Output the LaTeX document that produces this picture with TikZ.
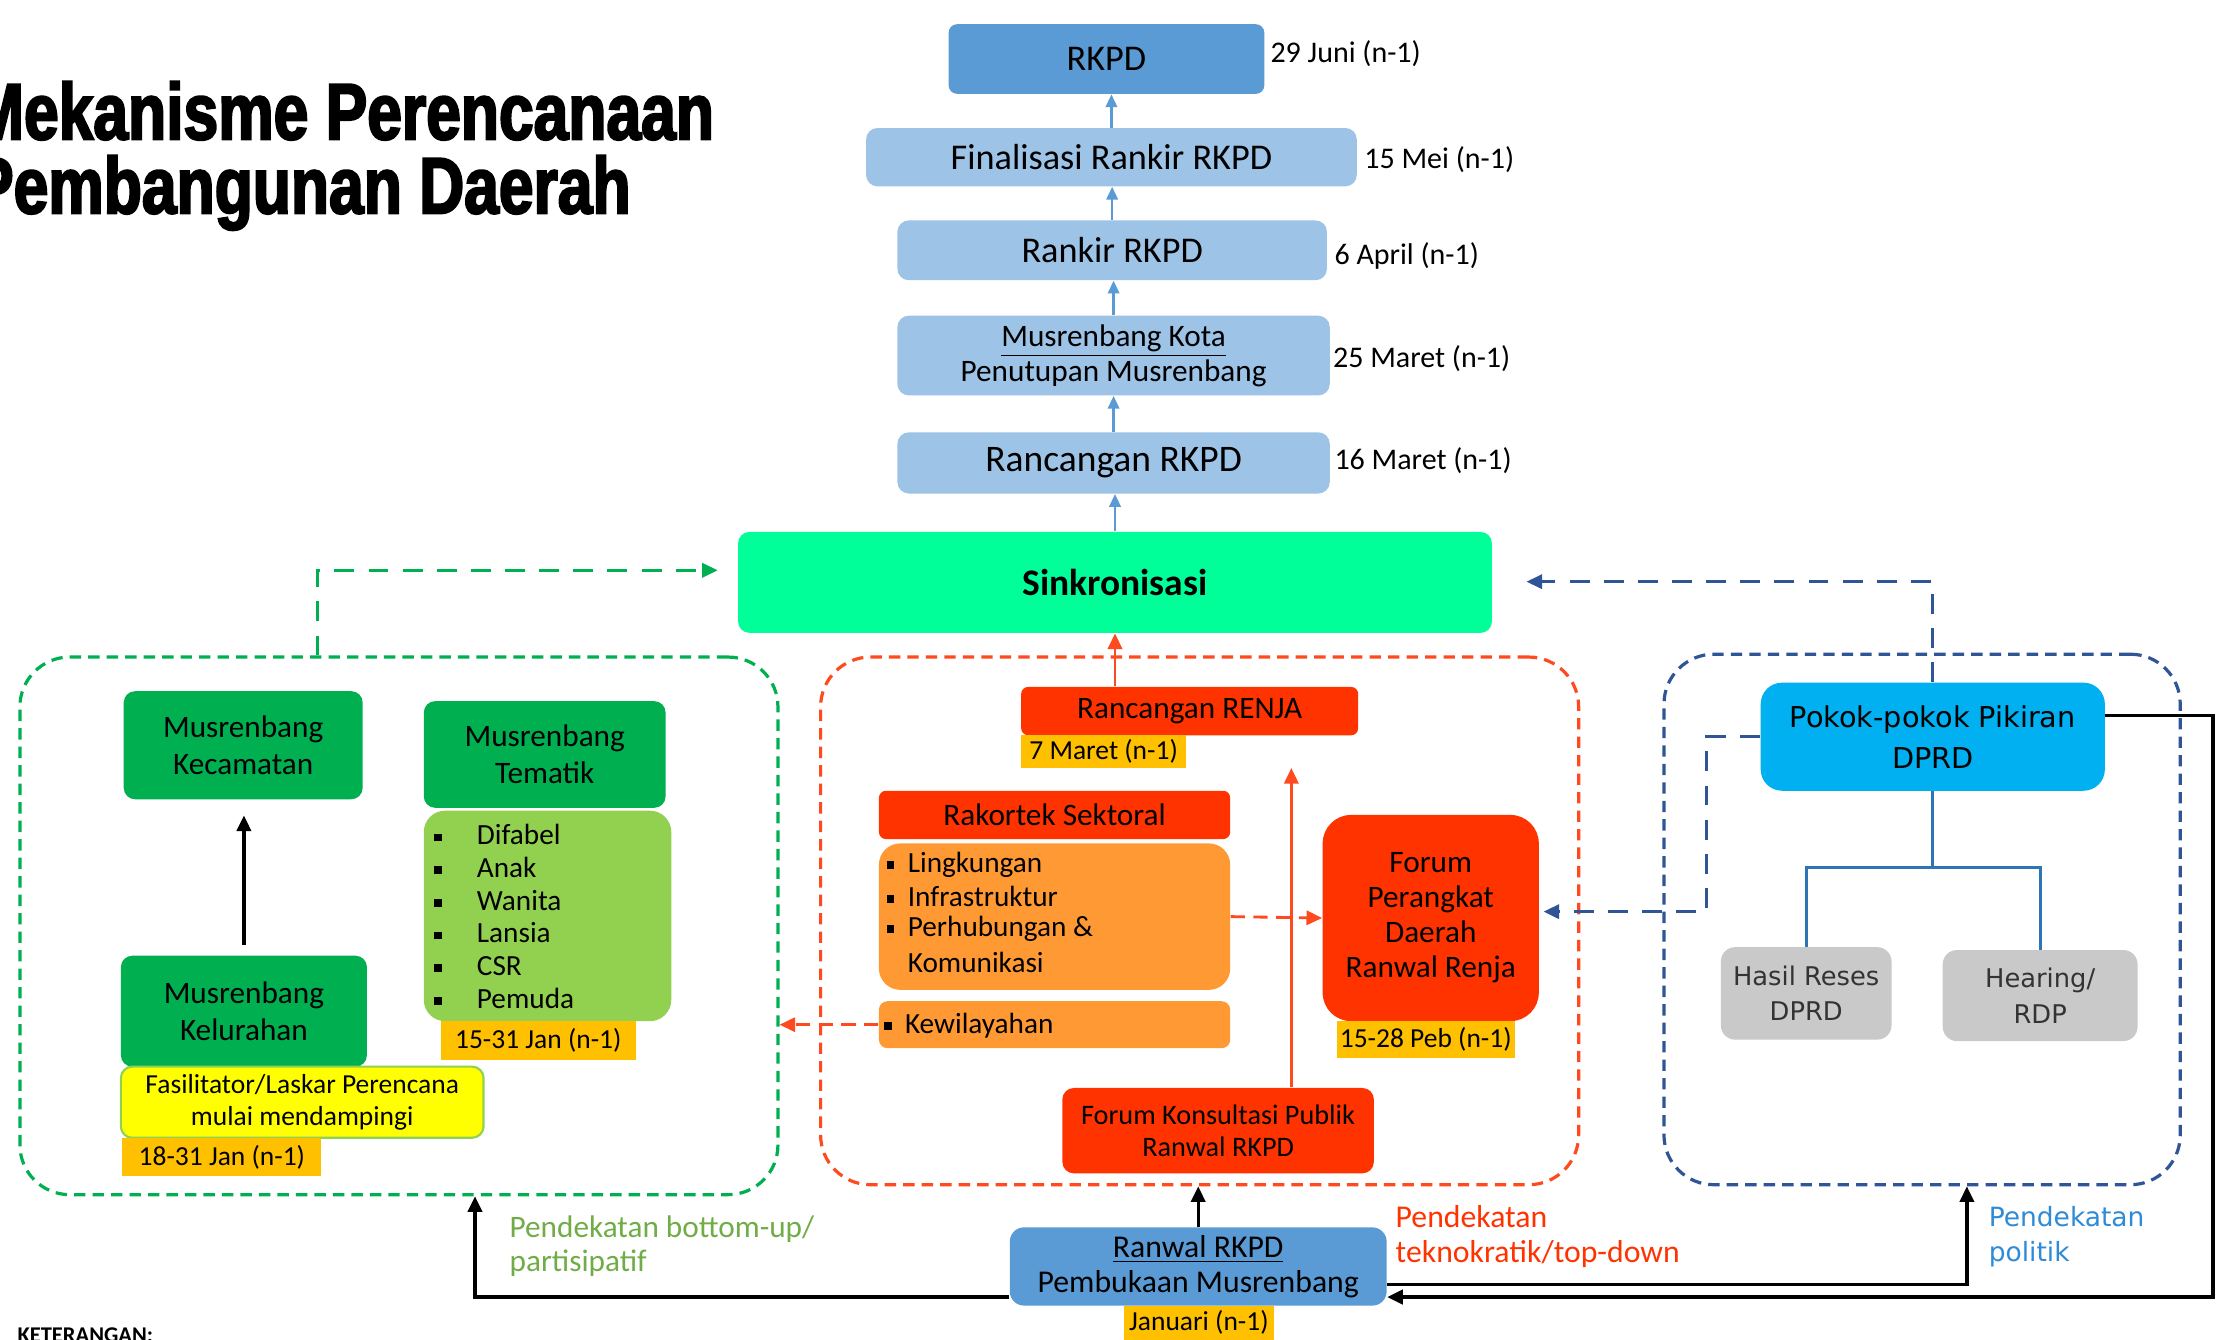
\documentclass[tikz,border=0pt]{standalone}
\usepackage{fontspec}
\setmainfont{Carlito}
\newfontfamily\judulfont{Liberation Sans}[FakeStretch=0.78,FakeBold=2.6]
\newfontfamily\dvfont{DejaVu Sans}
\usetikzlibrary{arrows.meta}
\definecolor{biruRKPD}{HTML}{5B9BD5}
\definecolor{biruMuda}{HTML}{9DC3E6}
\definecolor{mint}{HTML}{00FF99}
\definecolor{hijauTua}{HTML}{00B050}
\definecolor{hijauMuda}{HTML}{92D050}
\definecolor{tglOranye}{HTML}{FFC000}
\definecolor{kuning}{HTML}{FFFF00}
\definecolor{merahOr}{HTML}{FF3300}
\definecolor{oranye}{HTML}{FF9933}
\definecolor{biruLangit}{HTML}{00B0F0}
\definecolor{abu}{HTML}{C9C9C9}
\definecolor{garisMerah}{HTML}{FF4A1F}
\definecolor{garisBiru}{HTML}{2F5597}
\definecolor{pohon}{HTML}{2E75B6}
\definecolor{hijauLabel}{HTML}{70AD47}
\definecolor{biruLabel}{HTML}{2E8BD8}
\newcommand\kotakkecil{\rule[0.25ex]{1.1mm}{1.1mm}}

\begin{document}
\begin{tikzpicture}[x=0.2mm,y=-0.2mm,
    ukuran/.style 2 args={minimum width=#1mm,minimum height=#2mm},
    box/.style={rounded corners=1.6mm,align=center,inner sep=0pt,text=black},
    kolom/.style={box,fill=biruMuda,font=\fontsize{14.5}{17}\selectfont},
    hijau/.style={box,fill=hijauTua,font=\fontsize{12.5}{15}\selectfont},
    merah/.style={box,fill=merahOr,font=\fontsize{12.5}{15}\selectfont},
    tgl/.style={fill=tglOranye,inner sep=0pt,align=center,font=\fontsize{11}{13}\selectfont},
    tglkanan/.style={anchor=west,inner sep=0pt,font=\fontsize{12}{14}\selectfont},
    item/.style={anchor=west,inner sep=0pt,font=\fontsize{11.7}{14}\selectfont},
    wadah/.style={rounded corners=7mm,line width=0.45mm,dash pattern=on 1.6mm off 1mm,inner sep=0pt},
    panahbiru/.style={draw=biruRKPD,line width=0.35mm,-{Triangle[length=1.8mm,width=1.6mm]}},
    panahhitam/.style={draw=black,line width=0.45mm,-{Triangle[length=2.2mm,width=2mm]}},
    panahhijau/.style={draw=hijauTua,line width=0.45mm,dash pattern=on 2.8mm off 2mm,-{Triangle[length=2.2mm,width=2mm]}},
    panahmerah/.style={draw=garisMerah,line width=0.4mm,-{Triangle[length=2.2mm,width=2mm]}},
    panahmerahputus/.style={panahmerah,dash pattern=on 2mm off 1.2mm},
    panahbiruputus/.style={draw=garisBiru,line width=0.45mm,dash pattern=on 2.8mm off 2mm,-{Triangle[length=2.2mm,width=2mm]}},
    garispohon/.style={draw=pohon,line width=0.4mm}]
    \useasboundingbox (0,0) rectangle (1568,942);
    \fill[white] (0,0) rectangle (1568,942);

    \node[anchor=base west,inner sep=0pt,font=\judulfont\bfseries\fontsize{32}{30}\selectfont] (judul1) at (-20,98) {Mekanisme Perencanaan};
    \node[anchor=base west,inner sep=0pt,font=\judulfont\bfseries\fontsize{32}{30}\selectfont] (judul2) at (-20,150) {Pembangunan Daerah};

    % kolom RKPD
    \node[kolom,fill=biruRKPD,rounded corners=1.2mm,ukuran={44.4}{9.8}] (rkpd) at (778,41.5) {RKPD};
    \node[kolom,ukuran={69}{8.2}] (final) at (781.5,110.5) {Finalisasi Rankir RKPD};
    \node[kolom,ukuran={60.4}{8.4}] (rankir) at (782,176) {Rankir RKPD};
    \node[kolom,ukuran={60.8}{11.2},font=\fontsize{12.5}{14}\selectfont] (kota) at (783,250) {\underline{Musrenbang Kota}\\Penutupan Musrenbang};
    \node[kolom,ukuran={60.8}{8.6},font=\fontsize{15}{17}\selectfont] (rancrkpd) at (783,325.5) {Rancangan RKPD};
    \node[box,fill=mint,ukuran={106}{14.2},font=\bfseries\fontsize{15}{17}\selectfont] (sink) at (784,409.5) {Sinkronisasi};
    \foreach \a/\b in {sink/rancrkpd,rancrkpd/kota,kota/rankir,rankir/final,final/rkpd}
        \draw[panahbiru] (\a.north) -- (\a.north |- \b.south);

    \node[tglkanan] (t1) at (893,38) {29 Juni (n-1)};
    \node[tglkanan] (t2) at (959,112) {15 Mei (n-1)};
    \node[tglkanan] (t3) at (938,180) {6 April (n-1)};
    \node[tglkanan] (t4) at (937,252) {25 Maret (n-1)};
    \node[tglkanan] (t5) at (938,324) {16 Maret (n-1)};

    \node[wadah,draw=hijauTua,ukuran={106.6}{75.6}] (gbox) at (280.5,651) {};
    \node[wadah,draw=garisMerah,ukuran={106.6}{74.2}] (rbox) at (843.5,647.5) {};
    \node[wadah,draw=garisBiru,ukuran={72.6}{74.6}] (bbox) at (1351.5,646.5) {};

    % bottom-up
    \node[hijau,ukuran={33.6}{15.2}] (kec) at (171,524) {Musrenbang\\Kecamatan};
    \node[box,fill=hijauMuda,rounded corners=3mm,ukuran={34.8}{29.6}] (temlist) at (385,644) {};
    \node[hijau,ukuran={34}{15}] (tem) at (383,530.5) {Musrenbang\\Tematik};
    \foreach \t [count=\i] in {Difabel,Anak,Wanita,Lansia,CSR,Pemuda}
        \node[item] (tem\i) at (305,564+23*\i) {\makebox[6mm][l]{\kotakkecil}\t};
    \node[tgl,ukuran={27.4}{5.4}] (temtgl) at (378.5,731.5) {15-31 Jan (n-1)};
    \node[hijau,ukuran={34.6}{15.6}] (kel) at (171.5,711) {Musrenbang\\Kelurahan};
    \node[box,fill=kuning,draw=hijauMuda,line width=0.3mm,ukuran={51}{10},font=\fontsize{11}{12.5}\selectfont] (fasil) at (212.5,775) {Fasilitator/Laskar Perencana\\mulai mendampingi};
    \node[tgl,ukuran={28}{5.4}] (keltgl) at (156,813.5) {18-31 Jan (n-1)};
    \draw[panahhitam,shorten <=1.4mm,shorten >=2.2mm] (kel.north) -- (kel.north |- kec.south);
    \coordinate (gatas) at (223,401);
    \draw[panahhijau] (gatas |- gbox.north) -- (gatas) -- ([xshift=-2.8mm]sink.west |- gatas);

    % teknokratik
    \node[merah,ukuran={47.4}{6.8},rounded corners=1mm] (renja) at (836.5,500) {Rancangan RENJA};
    \node[tgl,ukuran={23.2}{4.6}] (renjatgl) at (776,528.5) {7 Maret (n-1)};
    \draw[panahmerah] (renja.north -| sink.south) -- (sink.south);
    \node[merah,ukuran={49.4}{6.8},rounded corners=1mm] (rakortek) at (741.5,573) {Rakortek Sektoral};
    \node[box,fill=oranye,rounded corners=3mm,ukuran={49.4}{20.6}] (sektor) at (741.5,644.5) {};
    \foreach \t/\y [count=\i] in {Lingkungan/608,Infrastruktur/630,Perhubungan \&/653}
        \node[item] (sek\i) at (623,\y) {\makebox[3mm][l]{\kotakkecil}\t};
    \node[item] (sek4) at (638,677) {Komunikasi};
    \node[box,fill=oranye,rounded corners=1.2mm,ukuran={49.4}{6.6}] (kewil) at (741.5,720.5) {};
    \node[item] (kewiltxt) at (621,721) {\makebox[3mm][l]{\kotakkecil}Kewilayahan};
    \node[merah,rounded corners=4mm,ukuran={30.4}{29},font=\fontsize{12.5}{14}\selectfont] (forum) at (1006,645.5) {Forum\\Perangkat\\Daerah\\Ranwal Renja};
    \node[tgl,ukuran={25}{5.2}] (forumtgl) at (1002.5,731) {15-28 Peb (n-1)};
    \node[merah,ukuran={43.8}{12},font=\fontsize{11.3}{13}\selectfont] (fkp) at (856.5,795) {Forum Konsultasi Publik\\Ranwal RKPD};
    \coordinate (merahujung) at (908,540);
    \draw[panahmerah] (fkp.north -| merahujung) -- (merahujung);
    \draw[panahmerahputus] (sektor.east) -- (forum.west);
    \draw[panahmerahputus] (kewil.west) -- (kewil.west -| gbox.east);

    % politik
    \node[box,fill=biruLangit,rounded corners=3mm,ukuran={48.4}{15.2},font=\dvfont\fontsize{11.5}{16.5}\selectfont] (pokok) at (1359,518) {Pokok-pokok Pikiran\\DPRD};
    \node[box,fill=abu,rounded corners=2mm,ukuran={24}{13},text=black!80,font=\dvfont\fontsize{10.3}{14.2}\selectfont] (reses) at (1270,698.5) {Hasil Reses\\DPRD};
    \node[box,fill=abu,rounded corners=2mm,ukuran={27.4}{12.8},text=black!80,font=\dvfont\fontsize{10.3}{14.2}\selectfont] (hearing) at (1434.5,700) {Hearing/\\RDP};
    \coordinate (cabang) at (1357,610);
    \draw[garispohon] (pokok.south) -- (pokok.south |- cabang);
    \draw[garispohon] (reses.north) -- (reses.north |- cabang) -- (hearing.north |- cabang) -- (hearing.north);
    \coordinate (batas) at (1357,409);
    \draw[panahbiruputus] (pokok.north) -- (pokok.north |- batas) -- ([xshift=4.8mm]sink.east |- batas);
    \coordinate (belok) at (1200,641);
    \draw[panahbiruputus] (pokok.west) -| (belok) -- ([xshift=0.6mm]forum.east |- belok);

    % Ranwal RKPD
    \node[box,fill=biruRKPD,rounded corners=2mm,ukuran={53}{11},font=\fontsize{12.7}{13.8}\selectfont] (ranwal) at (842.5,890.5) {\underline{Ranwal RKPD}\\Pembukaan Musrenbang};
    \node[tgl,ukuran={21.2}{4.8}] (ranwaltgl) at (843,930) {Januari (n-1)};
    \draw[panahhitam] (ranwal.north) -- (ranwal.north |- rbox.south);
    \coordinate (kiribawah) at (334,912);
    \draw[panahhitam] (ranwal.west |- kiribawah) -- (kiribawah) -- (kiribawah |- gbox.south);
    \coordinate (kananbawah) at (1383,903);
    \draw[panahhitam] (ranwal.east |- kananbawah) -- (kananbawah) -- (kananbawah |- bbox.south);
    \coordinate (luaratas) at (1556,503);
    \coordinate (luarbawah) at (1556,912);
    \draw[panahhitam] (pokok.east |- luaratas) -- (luaratas) -- (luarbawah) -- (ranwal.east |- luarbawah);

    \node[anchor=west,align=left,inner sep=0pt,text=hijauLabel,font=\fontsize{12.5}{13.7}\selectfont] (lbhijau) at (358,876) {Pendekatan bottom-up/\\partisipatif};
    \node[anchor=west,align=left,inner sep=0pt,text=merahOr,font=\fontsize{12.7}{14}\selectfont] (lbmerah) at (981,869.5) {Pendekatan\\teknokratik/top-down};
    \node[anchor=west,align=left,inner sep=0pt,text=biruLabel,font=\dvfont\fontsize{10.6}{14}\selectfont] (lbbiru) at (1398,869.5) {Pendekatan\\politik};
    \node[anchor=north west,inner sep=0pt,font=\bfseries\fontsize{9}{10}\selectfont] (ket) at (12,933) {KETERANGAN:};
\end{tikzpicture}
\end{document}
